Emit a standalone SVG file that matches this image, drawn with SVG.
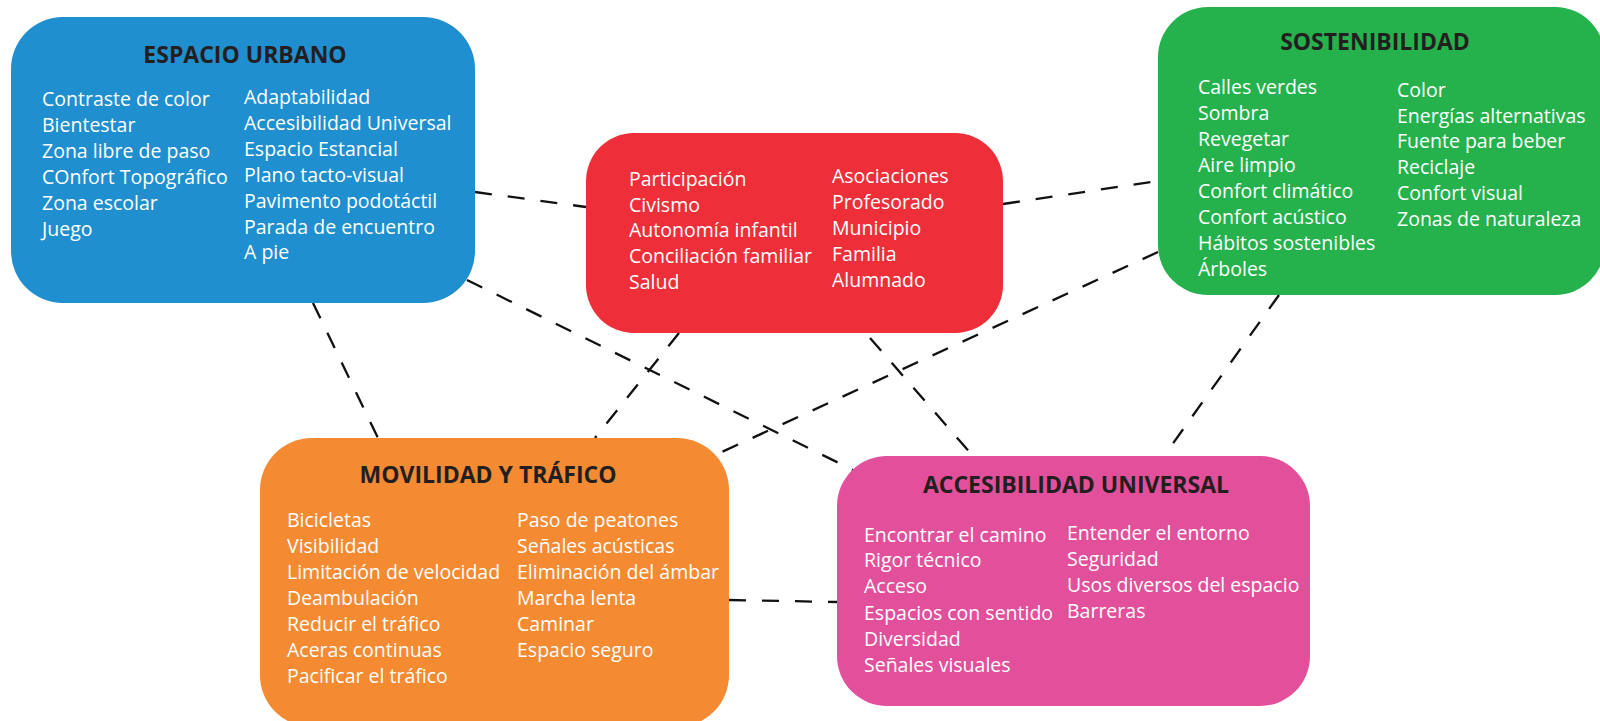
<svg xmlns="http://www.w3.org/2000/svg" width="1600" height="721" viewBox="0 0 1600 721">
<style>
.t{font-family:"Open Sans","Liberation Sans",sans-serif;font-weight:700;font-size:23px;fill:#231f20;text-anchor:middle}
.b{font-family:"Open Sans","Liberation Sans",sans-serif;font-size:19.5px;fill:#ffffff}
.c{fill:none;stroke:#111;stroke-width:2.3;stroke-dasharray:17 16}
</style>
<rect width="1600" height="721" fill="#ffffff"/>
<g id="connectors">
<line class="c" x1="475" y1="192" x2="586" y2="207"/>
<line class="c" x1="1003" y1="204" x2="1158" y2="181"/>
<line class="c" x1="467" y1="280" x2="853" y2="470"/>
<line class="c" x1="313" y1="303" x2="378" y2="438"/>
<line class="c" x1="679" y1="333" x2="595" y2="438"/>
<line class="c" x1="870" y1="338" x2="973" y2="456"/>
<line class="c" x1="1158" y1="252" x2="713" y2="456"/>
<line class="c" x1="1279" y1="295" x2="1164" y2="456"/>
<line class="c" x1="729" y1="600" x2="837" y2="602"/>
</g>
<g id="espacio-urbano">
<rect x="11" y="17" width="464" height="286" rx="52" fill="#1f8fcf"/>
<text class="t" x="245" y="63">ESPACIO URBANO</text>
<text class="b" x="42" y="106">Contraste de color</text>
<text class="b" x="42" y="132">Bientestar</text>
<text class="b" x="42" y="158">Zona libre de paso</text>
<text class="b" x="42" y="184">COnfort Topográfico</text>
<text class="b" x="42" y="210">Zona escolar</text>
<text class="b" x="42" y="236">Juego</text>
<text class="b" x="244" y="104">Adaptabilidad</text>
<text class="b" x="244" y="130">Accesibilidad Universal</text>
<text class="b" x="244" y="156">Espacio Estancial</text>
<text class="b" x="244" y="182">Plano tacto-visual</text>
<text class="b" x="244" y="208">Pavimento podotáctil</text>
<text class="b" x="244" y="234">Parada de encuentro</text>
<text class="b" x="244" y="259">A pie</text>
</g>
<g id="participacion">
<rect x="586" y="133" width="417" height="200" rx="48" fill="#ee2e38"/>
<text class="b" x="629" y="186">Participación</text>
<text class="b" x="629" y="212">Civismo</text>
<text class="b" x="629" y="237">Autonomía infantil</text>
<text class="b" x="629" y="263">Conciliación familiar</text>
<text class="b" x="629" y="289">Salud</text>
<text class="b" x="832" y="183">Asociaciones</text>
<text class="b" x="832" y="209">Profesorado</text>
<text class="b" x="832" y="235">Municipio</text>
<text class="b" x="832" y="261">Familia</text>
<text class="b" x="832" y="287">Alumnado</text>
</g>
<g id="sostenibilidad">
<rect x="1158" y="7" width="447" height="288" rx="50" fill="#25b24c"/>
<text class="t" x="1375" y="50">SOSTENIBILIDAD</text>
<text class="b" x="1198" y="94">Calles verdes</text>
<text class="b" x="1198" y="120">Sombra</text>
<text class="b" x="1198" y="146">Revegetar</text>
<text class="b" x="1198" y="172">Aire limpio</text>
<text class="b" x="1198" y="198">Confort climático</text>
<text class="b" x="1198" y="224">Confort acústico</text>
<text class="b" x="1198" y="250">Hábitos sostenibles</text>
<text class="b" x="1198" y="276">Árboles</text>
<text class="b" x="1397" y="97">Color</text>
<text class="b" x="1397" y="123">Energías alternativas</text>
<text class="b" x="1397" y="148">Fuente para beber</text>
<text class="b" x="1397" y="174">Reciclaje</text>
<text class="b" x="1397" y="200">Confort visual</text>
<text class="b" x="1397" y="226">Zonas de naturaleza</text>
</g>
<g id="movilidad">
<rect x="260" y="438" width="469" height="289" rx="52" fill="#f48a31"/>
<text class="t" x="488" y="483">MOVILIDAD Y TRÁFICO</text>
<text class="b" x="287" y="527">Bicicletas</text>
<text class="b" x="287" y="553">Visibilidad</text>
<text class="b" x="287" y="579">Limitación de velocidad</text>
<text class="b" x="287" y="605">Deambulación</text>
<text class="b" x="287" y="631">Reducir el tráfico</text>
<text class="b" x="287" y="657">Aceras continuas</text>
<text class="b" x="287" y="683">Pacificar el tráfico</text>
<text class="b" x="517" y="527">Paso de peatones</text>
<text class="b" x="517" y="553">Señales acústicas</text>
<text class="b" x="517" y="579">Eliminación del ámbar</text>
<text class="b" x="517" y="605">Marcha lenta</text>
<text class="b" x="517" y="631">Caminar</text>
<text class="b" x="517" y="657">Espacio seguro</text>
</g>
<g id="accesibilidad">
<rect x="837" y="456" width="473" height="250" rx="50" fill="#e2509b"/>
<text class="t" x="1076" y="493">ACCESIBILIDAD UNIVERSAL</text>
<text class="b" x="864" y="542">Encontrar el camino</text>
<text class="b" x="864" y="567">Rigor técnico</text>
<text class="b" x="864" y="593">Acceso</text>
<text class="b" x="864" y="620">Espacios con sentido</text>
<text class="b" x="864" y="646">Diversidad</text>
<text class="b" x="864" y="672">Señales visuales</text>
<text class="b" x="1067" y="540">Entender el entorno</text>
<text class="b" x="1067" y="566">Seguridad</text>
<text class="b" x="1067" y="592">Usos diversos del espacio</text>
<text class="b" x="1067" y="618">Barreras</text>
</g>
</svg>
